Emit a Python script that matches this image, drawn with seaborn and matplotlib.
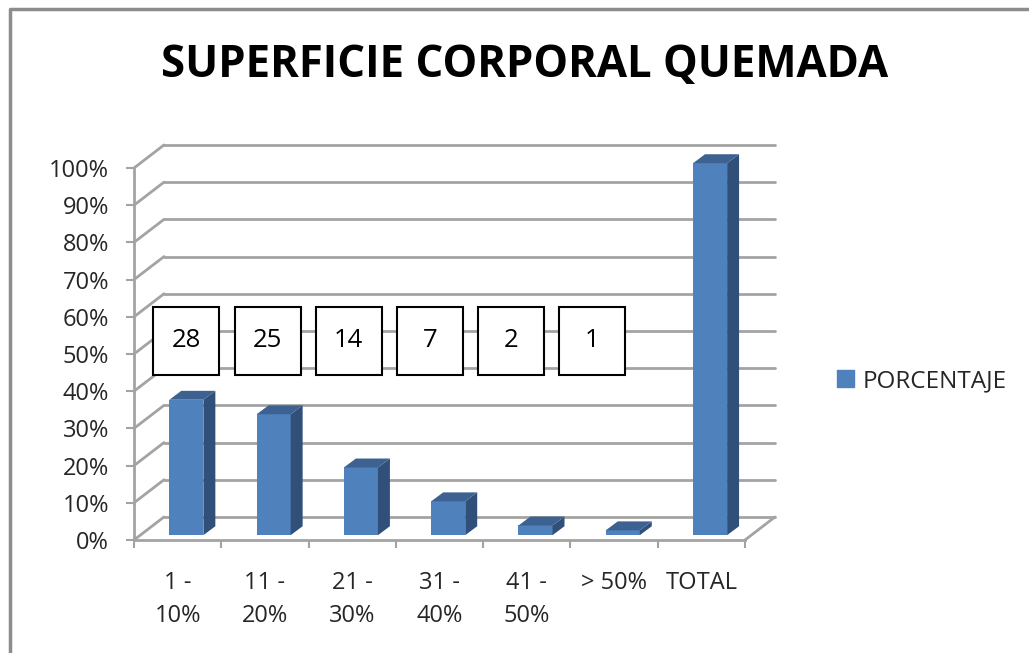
import numpy as np
import seaborn as sns
import matplotlib.pyplot as plt
from matplotlib.patches import Polygon, Rectangle, Patch
from matplotlib.lines import Line2D

# =========================
# Data
# =========================
categories = ["1 -\n10%", "11 -\n20%", "21 -\n30%", "31 -\n40%", "41 -\n50%", "> 50%", "TOTAL"]
porcentaje = [0.364, 0.325, 0.182, 0.091, 0.026, 0.013, 1.00]
casos = ["28", "25", "14", "7", "2", "1"]
y_ticks = [0.0, 0.1, 0.2, 0.3, 0.4, 0.5, 0.6, 0.7, 0.8, 0.9, 1.0]
y_labels = ["0%", "10%", "20%", "30%", "40%", "50%", "60%", "70%", "80%", "90%", "100%"]

# =========================
# Style
# =========================
sns.set_theme(style="white")
plt.rcParams['font.family'] = ['Open Sans', 'DejaVu Sans']

front = "#4F81BD"
side = "#30507A"
top = "#3D6190"
grid_c = "#A3A3A3"

fig = plt.figure(figsize=(10.29, 6.53), dpi=100)
ax = fig.add_axes([134 / 1029, 113 / 653, 611 / 1029, 372 / 653])

# depth offsets (data units)
dx, dy = 0.344, 0.062     # back wall
bx, by = 0.10, 0.013      # bar placement inside the depth
sx, sy = 0.137, 0.024     # bar depth

# =========================
# Walls / grid
# =========================
n = len(categories)
for v in y_ticks:
    ax.plot([-0.5 + dx, n - 0.5 + dx], [v + dy, v + dy], color=grid_c, lw=2, zorder=0, clip_on=False)
    ax.plot([-0.5, -0.5 + dx], [v, v + dy], color=grid_c, lw=2, zorder=0, clip_on=False)
ax.plot([n - 0.5, n - 0.5 + dx], [0, dy], color=grid_c, lw=2, zorder=0, clip_on=False)

# =========================
# Bars
# =========================
sns.barplot(x=categories, y=porcentaje, color=front, saturation=1, width=0.39,
            linewidth=0, ax=ax, zorder=3)
for p in ax.patches:
    p.set_x(p.get_x() + bx)
    p.set_y(by)
    x0 = p.get_x()
    x1 = x0 + p.get_width()
    y1 = by + p.get_height()
    ax.add_patch(Polygon([(x1, by), (x1 + sx, by + sy), (x1 + sx, y1 + sy), (x1, y1)],
                         closed=True, fc=side, ec="none", zorder=3, clip_on=False))
    ax.add_patch(Polygon([(x0, y1), (x1, y1), (x1 + sx, y1 + sy), (x0 + sx, y1 + sy)],
                         closed=True, fc=top, ec="none", zorder=3, clip_on=False))
    p.set_clip_on(False)

# =========================
# Count boxes
# =========================
box_w, box_h = 0.756, 0.183
for i, c in enumerate(casos):
    cx = 0.10 + i * 0.93
    cy = 0.535
    ax.add_patch(Rectangle((cx - box_w / 2, cy - box_h / 2), box_w, box_h,
                           fc="white", ec="black", lw=1.5, zorder=5, clip_on=False))
    ax.text(cx, cy, c, ha="center", va="center", fontsize=18.5, color="black", zorder=6)

# =========================
# Axes
# =========================
ax.set_xlim(-0.5, n - 0.5)
ax.set_ylim(0, 1)
ax.set_yticks(y_ticks)
ax.set_yticklabels(y_labels)
ax.set_xticks(np.arange(n))
ax.set_xticks(np.arange(n + 1) - 0.5, minor=True)
ax.tick_params(axis="y", direction="out", length=6, width=1.5, color=grid_c, pad=12,
               labelsize=17, left=True)
ax.tick_params(axis="x", which="major", length=0, pad=22, labelsize=17)
ax.tick_params(axis="x", which="minor", direction="out", length=6, width=1.5, color=grid_c, bottom=True)
for s in ["top", "right"]:
    ax.spines[s].set_visible(False)
for s in ["left", "bottom"]:
    ax.spines[s].set_color(grid_c)
    ax.spines[s].set_linewidth(2)
ax.set_xlabel("")
ax.set_ylabel("")
for t in ax.get_xticklabels():
    t.set_linespacing(1.55)

# =========================
# Title / legend / border
# =========================
fig.text(525 / 1029, 1 - 66 / 653, "SUPERFICIE CORPORAL QUEMADA", ha="center", va="center",
         fontsize=31.5, fontweight="bold", color="black")
fig.legend(handles=[Patch(color=front, label="PORCENTAJE")], loc="center left",
           bbox_to_anchor=(815 / 1029, 1 - 381 / 653), frameon=False, fontsize=17.5,
           handlelength=0.7, handleheight=0.7, handletextpad=0.35)
fig.add_artist(Line2D([10 / 1029, 10 / 1029, 1], [0, 1 - 9 / 653, 1 - 9 / 653],
                      transform=fig.transFigure, color="#8C8C8C", lw=2.5))

fig.savefig("out.png", dpi=100)
